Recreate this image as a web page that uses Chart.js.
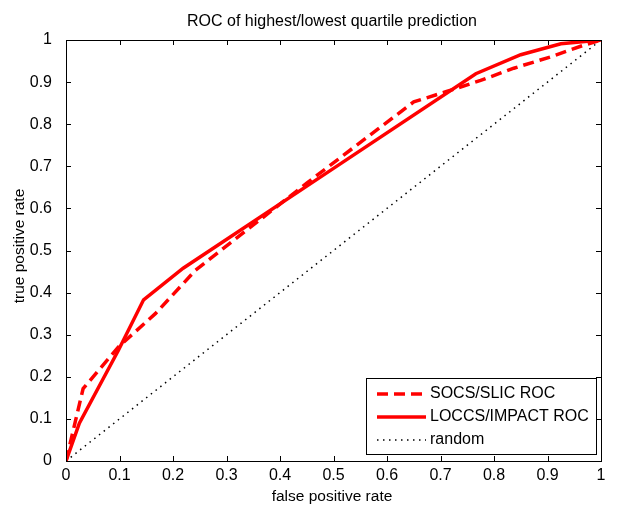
<!DOCTYPE html>
<html>
<head>
<meta charset="utf-8">
<script src="https://cdn.jsdelivr.net/npm/chart.js@4"></script>
<style>
  html, body { margin: 0; padding: 0; background: #fff; }
  #wrap { width: 617px; height: 519px; }
</style>
</head>
<body>
<div id="wrap"><canvas id="roc" width="617" height="519"></canvas></div>
<script>
const titleText = "ROC of highest/lowest quartile prediction";
const xTitle = "false positive rate";
const yTitle = "true positive rate";

const tickValues = [0, 0.1, 0.2, 0.3, 0.4, 0.5, 0.6, 0.7, 0.8, 0.9, 1];
const tickLabels = ["0", "0.1", "0.2", "0.3", "0.4", "0.5", "0.6", "0.7", "0.8", "0.9", "1"];

// SOCS/SLIC ROC (dashed)
const socsFpr = [0, 0.032, 0.098, 0.167, 0.242, 0.45, 0.65, 0.71, 0.775, 0.837, 0.906, 0.966, 1];
const socsTpr = [0, 0.172, 0.271, 0.35, 0.453, 0.66, 0.853, 0.877, 0.904, 0.933, 0.96, 0.987, 1];

// LOCCS/IMPACT ROC (solid)
const loccsFpr = [0, 0.025, 0.098, 0.145, 0.219, 0.5, 0.766, 0.85, 0.925, 1];
const loccsTpr = [0, 0.09, 0.263, 0.383, 0.458, 0.695, 0.92, 0.965, 0.991, 1];

// random guess
const randomFpr = [0, 1];
const randomTpr = [0, 1];

const font = "'Liberation Sans', Arial, sans-serif";
const toPoints = (xs, ys) => xs.map((x, i) => ({ x, y: ys[i] }));

// box, inward ticks, titles and legend, MATLAB style
const matlabFrame = {
  id: "matlabFrame",
  afterDatasetsDraw(chart) {
    const { ctx, chartArea: a, scales } = chart;
    ctx.save();
    ctx.strokeStyle = "#000";
    ctx.lineWidth = 1;
    ctx.strokeRect(a.left + 0.5, a.top + 0.5, a.right - a.left, a.bottom - a.top);
    ctx.beginPath();
    tickValues.forEach(v => {
      const px = Math.round(scales.x.getPixelForValue(v)) + 0.5;
      ctx.moveTo(px, a.bottom); ctx.lineTo(px, a.bottom - 5);
      ctx.moveTo(px, a.top); ctx.lineTo(px, a.top + 5);
      const py = Math.round(scales.y.getPixelForValue(v)) + 0.5;
      ctx.moveTo(a.left, py); ctx.lineTo(a.left + 5, py);
      ctx.moveTo(a.right, py); ctx.lineTo(a.right - 5, py);
    });
    ctx.stroke();

    ctx.fillStyle = "#000";
    ctx.font = "16px " + font;
    ctx.textAlign = "center";
    ctx.textBaseline = "middle";
    ctx.fillText(titleText, 332, 22);
    ctx.font = "15.5px " + font;
    ctx.fillText(xTitle, 332, 497);
    ctx.save();
    ctx.translate(20, 246);
    ctx.rotate(-Math.PI / 2);
    ctx.fillText(yTitle, 0, 0);
    ctx.restore();

    // legend
    const lx = 366, ly = 378, lw = 230, lh = 76;
    ctx.fillStyle = "#fff";
    ctx.fillRect(lx, ly, lw, lh);
    ctx.strokeRect(lx + 0.5, ly + 0.5, lw, lh);
    ctx.textAlign = "left";
    ctx.font = "16px " + font;
    chart.data.datasets.forEach((ds, i) => {
      const y = ly + 16 + i * 23;
      ctx.beginPath();
      ctx.strokeStyle = ds.borderColor;
      ctx.lineWidth = ds.borderWidth;
      ctx.setLineDash(ds.borderDash || []);
      ctx.moveTo(377, y);
      ctx.lineTo(426, y);
      ctx.stroke();
      ctx.setLineDash([]);
      ctx.fillStyle = "#000";
      ctx.fillText(ds.label, 430, y);
    });
    ctx.restore();
  }
};

new Chart(document.getElementById("roc"), {
  type: "scatter",
  data: {
    datasets: [
      {
        label: "SOCS/SLIC ROC",
        data: toPoints(socsFpr, socsTpr),
        showLine: true,
        borderColor: "#ff0000",
        borderWidth: 3.5,
        borderDash: [11, 6],
        pointRadius: 0
      },
      {
        label: "LOCCS/IMPACT ROC",
        data: toPoints(loccsFpr, loccsTpr),
        showLine: true,
        borderColor: "#ff0000",
        borderWidth: 3.5,
        pointRadius: 0
      },
      {
        label: "random",
        data: toPoints(randomFpr, randomTpr),
        showLine: true,
        borderColor: "#000",
        borderWidth: 1.5,
        borderDash: [1.5, 4.5],
        pointRadius: 0
      }
    ]
  },
  options: {
    responsive: false,
    animation: false,
    layout: { padding: { top: 40, right: 16, left: 0, bottom: 0 } },
    plugins: {
      legend: { display: false },
      tooltip: { enabled: false }
    },
    scales: {
      x: {
        type: "linear",
        min: 0,
        max: 1,
        afterBuildTicks: s => { s.ticks = tickValues.map(value => ({ value })); },
        afterFit: s => { s.height = 58; },
        grid: { display: false },
        border: { display: false },
        ticks: {
          color: "#000",
          padding: -3,
          maxRotation: 0,
          font: { family: font, size: 16 },
          callback: (v, i) => tickLabels[i]
        }
      },
      y: {
        type: "linear",
        min: 0,
        max: 1,
        afterBuildTicks: s => { s.ticks = tickValues.map(value => ({ value })); },
        afterFit: s => { s.width = 66; },
        grid: { display: false },
        border: { display: false },
        ticks: {
          color: "#000",
          padding: 6,
          font: { family: font, size: 16 },
          callback: (v, i) => tickLabels[i]
        }
      }
    }
  },
  plugins: [matlabFrame]
});
</script>
</body>
</html>
